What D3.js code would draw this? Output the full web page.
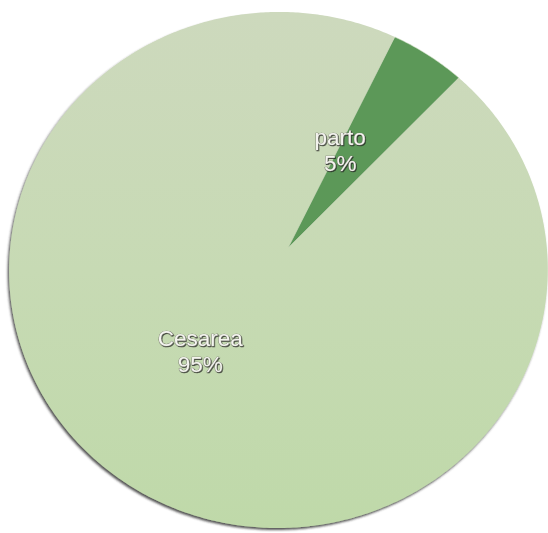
<!DOCTYPE html>
<html>
<head>
<meta charset="utf-8">
<script src="https://cdn.jsdelivr.net/npm/d3@7"></script>
<style>
  html, body { margin: 0; padding: 0; background: #fff; }
  svg { display: block; }
  text { font-family: "Liberation Sans", Arial, sans-serif; }
</style>
</head>
<body>
<svg id="chart" width="548" height="533"></svg>
<script>
// Data
const categories = ["parto", "Cesarea"];
const values = [5, 95];
const labels = ["5%", "95%"];
const colors = ["#5c9859", "#c8dbb5"];

const W = 548, H = 533;
const svg = d3.select("#chart");

// Pie viewed in slight perspective: the disc is tilted, so its centre
// projects off the middle of the outline.
const center = { x: 288, y: 248 };
const scaleX = 268, scaleY = 256;
const tiltX = 0.0354, tiltY = -0.0852;

function project(angle, r) {
  const u = r * Math.sin(angle);
  const v = -r * Math.cos(angle);
  const d = 1 + tiltX * u + tiltY * v;
  return [center.x + scaleX * u / d, center.y + scaleY * v / d];
}

const startA = 25.8 * Math.PI / 180;
const pie = d3.pie().sort(null).value(d => d.value)
  .startAngle(startA).endAngle(startA + 2 * Math.PI);

const data = categories.map((c, i) => ({ name: c, value: values[i], label: labels[i], color: colors[i] }));
const arcs = pie(data);

const line = d3.line();
function slicePath(a) {
  const n = Math.max(8, Math.ceil((a.endAngle - a.startAngle) / 0.01));
  const pts = [[center.x, center.y]];
  for (let k = 0; k <= n; k++) {
    const t = a.startAngle + (a.endAngle - a.startAngle) * k / n;
    pts.push(project(t, 1));
  }
  return line(pts) + "Z";
}

const defs = svg.append("defs");
const grad = defs.append("linearGradient").attr("id", "bigFill")
  .attr("x1", 0).attr("y1", 0).attr("x2", 0).attr("y2", 1);
grad.append("stop").attr("offset", "0%").attr("stop-color", "#cdd9bd");
grad.append("stop").attr("offset", "50%").attr("stop-color", "#c7dab4");
grad.append("stop").attr("offset", "100%").attr("stop-color", "#bfd9a9");

const shadow = defs.append("filter").attr("id", "rim")
  .attr("x", "-5%").attr("y", "-5%").attr("width", "110%").attr("height", "110%");
shadow.append("feDropShadow").attr("dx", -1.4).attr("dy", 2)
  .attr("stdDeviation", 1.2).attr("flood-color", "#2a2a2a").attr("flood-opacity", 0.8);

const textShadow = defs.append("filter").attr("id", "emboss")
  .attr("x", "-10%").attr("y", "-20%").attr("width", "120%").attr("height", "140%");
textShadow.append("feDropShadow").attr("dx", 0.8).attr("dy", 1)
  .attr("stdDeviation", 0.6).attr("flood-color", "#222").attr("flood-opacity", 0.8);

const g = svg.append("g").attr("filter", "url(#rim)");
g.selectAll("path.slice")
  .data(arcs)
  .join("path")
  .attr("class", "slice")
  .attr("d", slicePath)
  .attr("fill", d => d.data.name === "Cesarea" ? "url(#bigFill)" : d.data.color)
  .attr("stroke", d => d.data.name === "Cesarea" ? "none" : "#d2e0c4")
  .attr("stroke-width", 0.6);

// Labels: name and percentage at the slice's mid angle
const labelRadius = 0.45;
const labelNudge = { parto: { dx: -14, dy: -10 }, Cesarea: { dx: -16, dy: 1 } };
const lg = svg.append("g").attr("filter", "url(#emboss)");
arcs.forEach(a => {
  const mid = (a.startAngle + a.endAngle) / 2;
  const [px, py] = project(mid, labelRadius);
  const nd = labelNudge[a.data.name];
  const x = px + nd.dx, y = py + nd.dy;
  const t = lg.append("text")
    .attr("x", x).attr("y", y)
    .attr("text-anchor", "middle")
    .attr("font-size", 22.5)
    .attr("fill", "#f4f4ef")
    .attr("stroke", "#74746c")
    .attr("stroke-width", 0.7)
    .attr("paint-order", "stroke");
  t.append("tspan").attr("x", x).attr("dy", -2).text(a.data.name);
  t.append("tspan").attr("x", x).attr("dy", 26).text(a.data.label);
});
</script>
</body>
</html>
